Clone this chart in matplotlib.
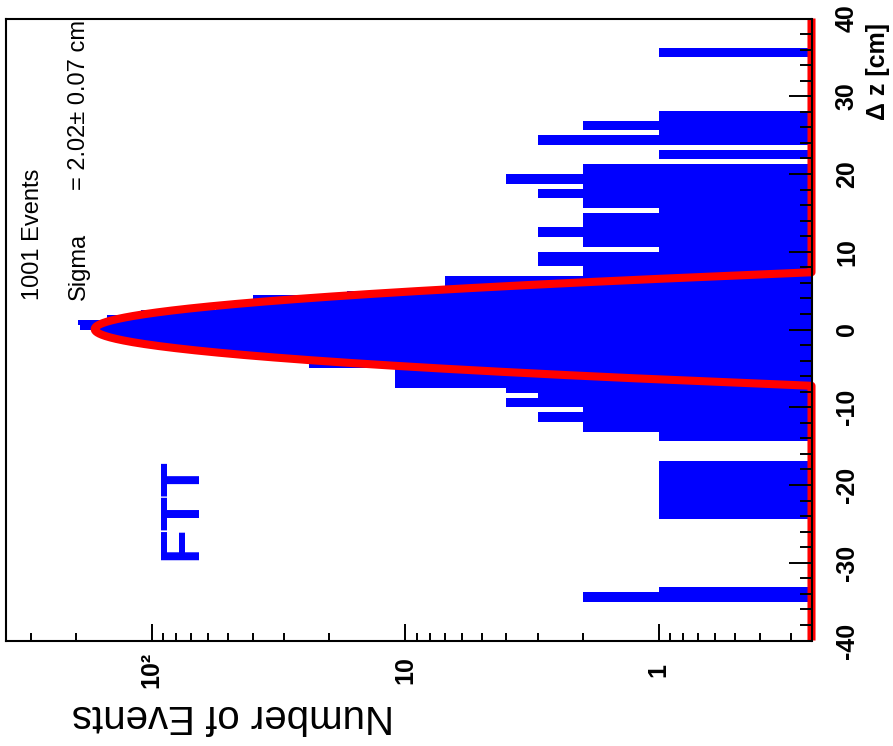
import numpy as np
import matplotlib
matplotlib.use("Agg")
import matplotlib.pyplot as plt
from matplotlib.ticker import FixedLocator, LogLocator, NullFormatter, MultipleLocator

plt.rcParams['font.family'] = ['Liberation Sans', 'DejaVu Sans']

# ---------------- data ----------------
z_range = (-40.0, 40.0)
n_bins = 128
counts = [
    0, 0, 0, 0, 0, 0, 0, 0,
    2, 2, 1,
    0, 0, 0, 0, 0, 0, 0, 0, 0, 0, 0, 0, 0, 0,
    1, 1, 1, 1, 1, 1, 1, 1, 1, 1, 1, 1,
    0, 0, 0, 0,
    1, 1, 2, 2, 3, 3, 2, 4, 4, 3, 4,
    11, 11, 11, 11, 24, 24, 35, 60, 88, 118, 150, 170,
    192, 195, 150, 110, 56, 40, 40, 17, 6, 7, 7, 2, 2,
    3, 3, 3, 1, 2, 2, 3, 3, 2, 2, 2, 1, 2, 2,
    3, 3, 2, 4, 4, 2, 2, 0, 1, 1, 0, 3, 3,
    1, 2, 2, 1, 1,
    0, 0, 0, 0, 0, 0, 0, 0, 0, 0, 0,
    1, 1,
    0, 0, 0, 0, 0, 0,
]
fit_amp = 168.0
fit_mean = 0.05
fit_sigma = 2.02

count_limits = (376.0, 0.25)
count_ticks = [1, 10, 100]
count_tick_labels = ['1', '10', '10²']
z_ticks = [-40, -30, -20, -10, 0, 10, 20, 30, 40]
z_tick_labels = ['-40', '-30', '-20', '-10', '0', '10', '20', '30', '40']

x_title = 'Δ z [cm]'
y_title = 'Number of Events'
stats_entries = '1001 Events'
stats_name = 'Sigma'
stats_value = '= 2.02± 0.07 cm'
detector_label = 'FTT'

# ---------------- figure ----------------
W, H = 893, 746
fig = plt.figure(figsize=(W / 100, H / 100), dpi=100)
ax = fig.add_axes([6 / W, 1 - 640.5 / H, (811.5 - 6) / W, (640.5 - 18.5) / H])
ax.set_xscale('log')
ax.set_xlim(count_limits)
ax.set_ylim(z_range)

edges = np.linspace(z_range[0], z_range[1], n_bins + 1)
base = 1e-3
vals = np.array(counts, dtype=float)
vals = np.where(vals > 0, vals, base)
ax.fill_betweenx(edges, base, np.append(vals, vals[-1]), step='post',
                 color='#0000ff', linewidth=0, zorder=1)

zz = np.linspace(z_range[0], z_range[1], 4001)
ff = fit_amp * np.exp(-0.5 * ((zz - fit_mean) / fit_sigma) ** 2)
ff = np.maximum(ff, count_limits[1])
ax.plot(ff, zz, color='#ff0000', lw=5.8, clip_on=False, zorder=2,
        solid_capstyle='butt')

for s in ax.spines.values():
    s.set_linewidth(1.5)
    s.set_color('black')
ax.set_axisbelow(False)

# log (count) axis at the bottom
ax.xaxis.set_major_locator(FixedLocator(count_ticks))
ax.xaxis.set_minor_locator(LogLocator(base=10, subs=np.arange(2, 10) * 1.0, numticks=30))
ax.xaxis.set_minor_formatter(NullFormatter())
ax.set_xticklabels(count_tick_labels)
ax.tick_params(axis='x', which='both', direction='in', bottom=True, top=False)
ax.tick_params(axis='x', which='major', length=12.2, width=1.4, labelsize=18, pad=21)
ax.tick_params(axis='x', which='minor', length=6, width=1.4)
for lab in ax.get_xticklabels():
    lab.set_rotation(90)
    lab.set_ha('center')
    lab.set_va('center')
    lab.set_fontweight('bold')

# z axis on the right
ax.yaxis.tick_right()
ax.yaxis.set_major_locator(FixedLocator(z_ticks))
ax.yaxis.set_minor_locator(MultipleLocator(2))
ax.set_yticklabels(z_tick_labels)
ax.tick_params(axis='y', which='both', direction='in', left=False, right=True,
               labelleft=False, labelright=True)
ax.tick_params(axis='y', which='major', length=16.5, width=1.4, labelsize=18, pad=25.5)
ax.tick_params(axis='y', which='minor', length=8.5, width=1.4)
for lab in ax.get_yticklabels():
    lab.set_rotation(90)
    lab.set_ha('center')
    lab.set_va('center')
    lab.set_fontweight('bold')

# titles and annotations
fig.text(878 / W, 1 - 23 / H, x_title, rotation=90, ha='center', va='top',
         fontsize=18, fontweight='bold')
fig.text(233 / W, 1 - 716 / H, y_title, rotation=180, ha='center', va='center',
         fontsize=29)
fig.text(182 / W, 1 - 509 / H, detector_label, rotation=90, ha='center', va='center',
         fontsize=40, fontweight='bold', color='#0000ff')
fig.text(33 / W, 1 - 300 / H, stats_entries, rotation=90, ha='center', va='bottom',
         fontsize=17)
fig.text(79 / W, 1 - 300 / H, stats_name, rotation=90, ha='center', va='bottom',
         fontsize=17)
fig.text(79 / W, 1 - 20 / H, stats_value, rotation=90, ha='center', va='top',
         fontsize=17)

fig.savefig('out.png', dpi=100)
